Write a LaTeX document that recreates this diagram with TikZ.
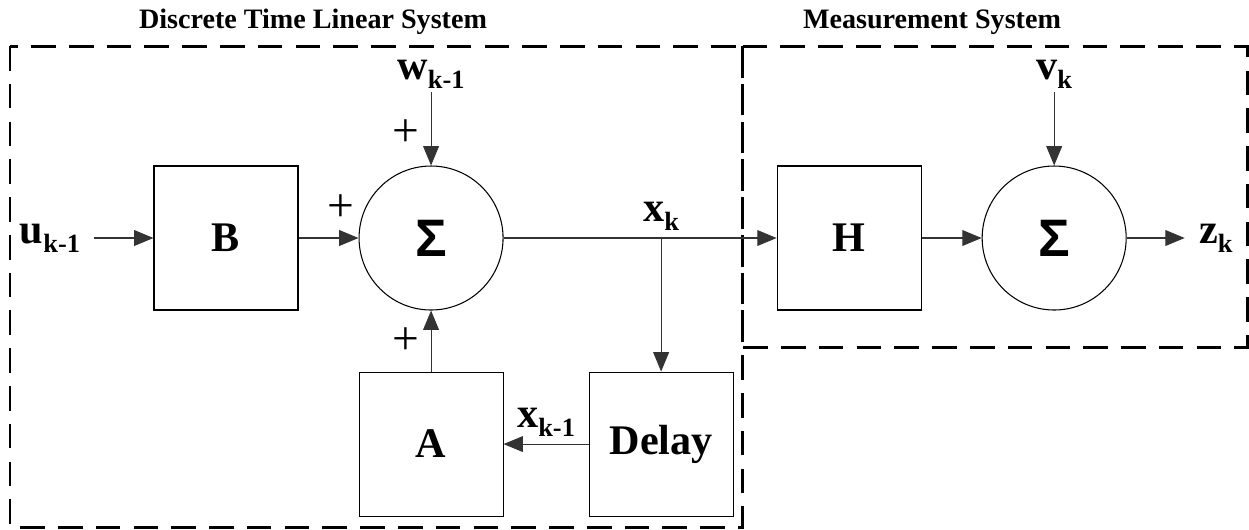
\documentclass[tikz,border=0pt]{standalone}
\usepackage{fontspec}
\setmainfont{Liberation Serif}
\newfontfamily\sigmafont{Liberation Sans}
\usetikzlibrary{arrows.meta, positioning}

\newcommand{\sigvar}[2]{#1\raisebox{-5pt}{\fontsize{15}{15}\selectfont #2}}

\tikzset{
  blk/.style={draw, line width=0.6pt, minimum size=2.88cm, inner sep=0pt, font=\fontsize{24}{24}\selectfont\bfseries},
  sumnode/.style={draw, circle, line width=0.6pt, minimum size=2.88cm, inner sep=0pt, font=\fontsize{30}{30}\selectfont\sigmafont\bfseries},
  sig/.style={inner xsep=8pt, inner ysep=2pt, font=\fontsize{24}{24}\selectfont\bfseries},
  plus/.style={inner sep=0pt, font=\fontsize{27}{27}\selectfont},
  conn/.style={line width=0.6pt, draw=black!80, -{Triangle[length=11pt, width=9pt]}},
  sysbox/.style={line width=1.7pt, dash pattern=on 14pt off 7.5pt},
  systitle/.style={font=\fontsize{16}{16}\selectfont\bfseries}
}

\begin{document}
\begin{tikzpicture}
  \useasboundingbox (0,0) rectangle (24.98,-10.58);

  % system boundaries
  \draw[sysbox] (0.2,-0.92) rectangle (14.84,-10.54);
  \draw[sysbox] (14.84,-0.92) rectangle (24.94,-6.94);
  \node[systitle] (ttlsys) at (6.26,-0.44) {Discrete Time Linear System};
  \node[systitle] (ttlmeas) at (18.64,-0.44) {Measurement System};

  % blocks
  \node[blk] (B) at (4.52,-4.76) {B};
  \node[sumnode, right=1.2cm of B] (sum1) {Σ};
  \node[blk, right=5.46cm of sum1] (H) {H};
  \node[sumnode, right=1.2cm of H] (sum2) {Σ};
  \node[blk, below=1.22cm of sum1] (A) {A};
  \node[blk, right=1.7cm of A] (delay) {Delay};
  \coordinate (branch) at (delay |- sum1);

  % signals
  \node[sig, left=1.18cm of B] (u) {\sigvar{u}{k-1}};
  \node[sig, above=1.46cm of sum1] (w) {\sigvar{w}{k-1}};
  \node[sig, above=1.46cm of sum2] (v) {\sigvar{v}{k}};
  \node[sig, right=1.16cm of sum2] (z) {\sigvar{z}{k}};
  \node[sig, above=2pt of branch] (xk) {\sigvar{x}{k}};

  % signs
  \node[plus] (pw) at ([shift={(-0.5,0.64)}]sum1.north) {+};
  \node[plus] (pb) at ([shift={(-0.36,0.6)}]sum1.west) {+};
  \node[plus] (pa) at ([shift={(-0.5,-0.62)}]sum1.south) {+};

  % connections
  \draw[conn] (u) -- (B);
  \draw[conn] (B) -- (sum1);
  \draw[conn] (w) -- (sum1);
  \draw[conn] (A) -- (sum1);
  \draw[conn] (sum1) -- (H);
  \draw[conn] (branch) -- (delay);
  \draw[conn] (delay) -- node[sig, above=2pt] (xkm) {\sigvar{x}{k-1}} (A);
  \draw[conn] (H) -- (sum2);
  \draw[conn] (v) -- (sum2);
  \draw[conn] (sum2) -- (z);
\end{tikzpicture}
\end{document}
